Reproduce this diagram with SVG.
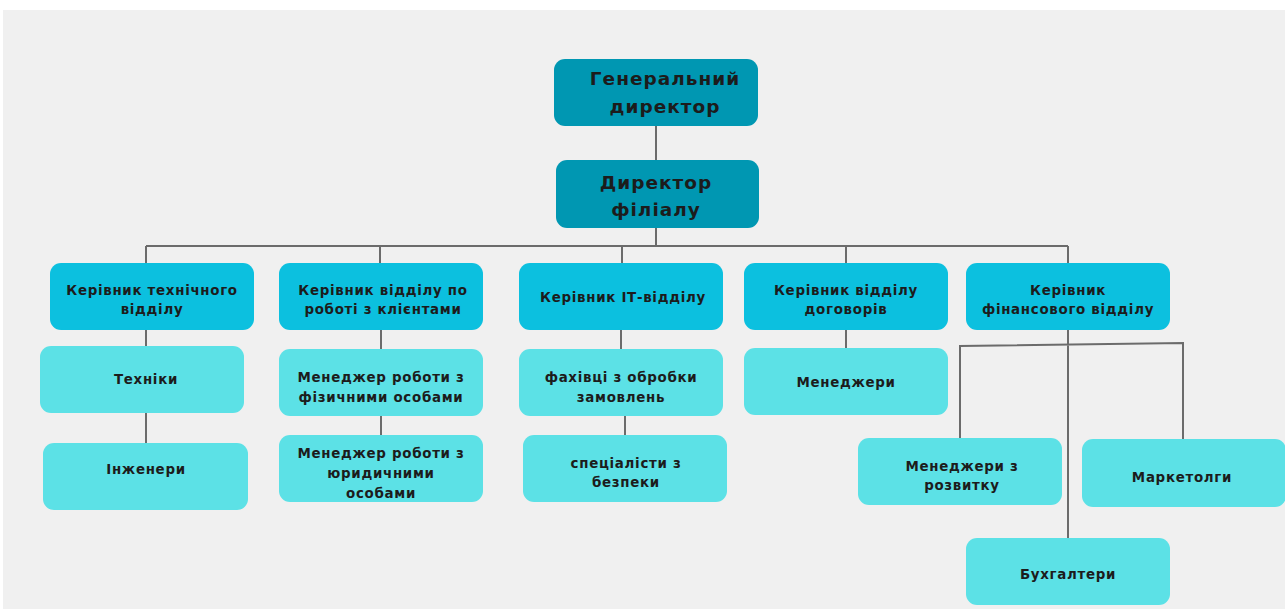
<svg xmlns="http://www.w3.org/2000/svg" width="1285" height="611" viewBox="0 0 1285 611">
<style>
.bg{fill:#f0f0f0}
.top{fill:#0097b2}
.mid{fill:#0cc0df}
.low{fill:#5ce1e6}
.c{stroke:#6b6b6b;stroke-width:2;fill:none}
text{font-family:"DejaVu Sans","Liberation Sans",sans-serif;font-weight:bold;fill:#1c1c1c;text-anchor:middle}
.t1{font-size:18.5px;letter-spacing:1px}
.t2{font-size:13.4px;letter-spacing:0.7px}
</style>
<rect width="1285" height="611" fill="#ffffff"/>
<rect class="bg" x="3" y="10" width="1282" height="599"/>
<g id="connectors">
<path class="c" d="M656 126V160M656 228V246M146 246H1068M146 246V263M380 246V263M622 246V263M846 246V263M1068 246V263"/>
<path class="c" d="M146 330V346M146 413V443M381 330V349M381 416V435M621 330V349M625 416V435M846 330V348"/>
<path class="c" d="M1068 330V538M960 438V346L1183 343V439"/>
</g>
<g id="gen-director"><rect class="top" x="554" y="59" width="204" height="67" rx="11"/><text class="t1" x="665" y="85">Генеральний</text><text class="t1" x="665" y="113">директор</text></g>
<g id="branch-director"><rect class="top" x="556" y="160" width="203" height="68" rx="11"/><text class="t1" x="656" y="189">Директор</text><text class="t1" x="656" y="216">філіалу</text></g>
<g id="tech-head"><rect class="mid" x="50" y="263" width="204" height="67" rx="11"/><text class="t2" x="152" y="295">Керівник технічного</text><text class="t2" x="152" y="314">відділу</text></g>
<g id="client-head"><rect class="mid" x="279" y="263" width="204" height="67" rx="11"/><text class="t2" x="383" y="295">Керівник відділу по</text><text class="t2" x="383" y="314">роботі з клієнтами</text></g>
<g id="it-head"><rect class="mid" x="519" y="263" width="204" height="67" rx="11"/><text class="t2" x="623" y="302">Керівник ІТ-відділу</text></g>
<g id="contract-head"><rect class="mid" x="744" y="263" width="204" height="67" rx="11"/><text class="t2" x="846" y="295">Керівник відділу</text><text class="t2" x="846" y="314">договорів</text></g>
<g id="fin-head"><rect class="mid" x="966" y="263" width="204" height="67" rx="11"/><text class="t2" x="1068" y="295">Керівник</text><text class="t2" x="1068" y="314">фінансового відділу</text></g>
<g id="techniky"><rect class="low" x="40" y="346" width="204" height="67" rx="11"/><text class="t2" x="146" y="384">Техніки</text></g>
<g id="inzhenery"><rect class="low" x="43" y="443" width="205" height="67" rx="11"/><text class="t2" x="146" y="474">Інженери</text></g>
<g id="mgr-phys"><rect class="low" x="279" y="349" width="204" height="67" rx="11"/><text class="t2" x="381" y="382">Менеджер роботи з</text><text class="t2" x="381" y="402">фізичними особами</text></g>
<g id="mgr-jur"><rect class="low" x="279" y="435" width="204" height="67" rx="11"/><text class="t2" x="381" y="458">Менеджер роботи з</text><text class="t2" x="381" y="478">юридичними</text><text class="t2" x="381" y="498">особами</text></g>
<g id="orders"><rect class="low" x="519" y="349" width="204" height="67" rx="11"/><text class="t2" x="621" y="382">фахівці з обробки</text><text class="t2" x="621" y="402">замовлень</text></g>
<g id="security"><rect class="low" x="523" y="435" width="204" height="67" rx="11"/><text class="t2" x="626" y="468">спеціалісти з</text><text class="t2" x="626" y="487">безпеки</text></g>
<g id="managers"><rect class="low" x="744" y="348" width="204" height="67" rx="11"/><text class="t2" x="846" y="387">Менеджери</text></g>
<g id="dev-mgr"><rect class="low" x="858" y="438" width="204" height="67" rx="11"/><text class="t2" x="962" y="471">Менеджери з</text><text class="t2" x="962" y="490">розвитку</text></g>
<g id="marketing"><rect class="low" x="1082" y="439" width="204" height="68" rx="11"/><text class="t2" x="1182" y="482">Маркетолги</text></g>
<g id="accountants"><rect class="low" x="966" y="538" width="204" height="67" rx="11"/><text class="t2" x="1068" y="579">Бухгалтери</text></g>
</svg>
